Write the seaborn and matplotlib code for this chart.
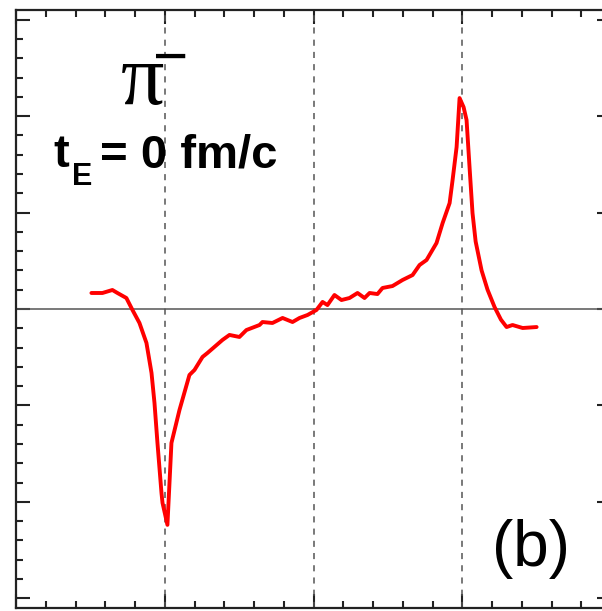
import matplotlib
matplotlib.use("Agg")
import matplotlib.pyplot as plt
import seaborn as sns
import numpy as np
import pandas as pd
from matplotlib.ticker import MultipleLocator, NullFormatter

sns.set_style("white")
plt.rcParams['font.family'] = ['Liberation Sans', 'DejaVu Sans']
plt.rcParams['mathtext.fontset'] = 'custom'
plt.rcParams['mathtext.it'] = 'Liberation Serif'
plt.rcParams['mathtext.rm'] = 'Liberation Sans'

x_vals = [-1.493, -1.419, -1.352, -1.318, -1.258, -1.217, -1.170, -1.123, -1.089, -1.069,
          -1.049, -1.022, -1.015, -0.982, -0.955, -0.901, -0.834, -0.800, -0.746, -0.713,
          -0.612, -0.565, -0.498, -0.451, -0.363, -0.343, -0.276, -0.208, -0.141, -0.094,
          -0.040, 0.020, 0.061, 0.094, 0.141, 0.188, 0.242, 0.296, 0.343, 0.377,
          0.430, 0.464, 0.531, 0.599, 0.666, 0.713, 0.760, 0.827, 0.868, 0.915,
          0.935, 0.962, 0.982, 1.009, 1.029, 1.049, 1.069, 1.090, 1.130, 1.170,
          1.217, 1.260, 1.298, 1.338, 1.406, 1.500]
y_vals = [0.166, 0.166, 0.197, 0.166, 0.114, -0.010, -0.145, -0.352, -0.663, -0.974,
          -1.389, -1.907, -2.010, -2.238, -1.389, -1.047, -0.684, -0.632, -0.497, -0.456,
          -0.321, -0.269, -0.290, -0.218, -0.166, -0.135, -0.145, -0.093, -0.135, -0.093,
          -0.062, -0.010, 0.073, 0.041, 0.145, 0.093, 0.114, 0.166, 0.114, 0.166,
          0.155, 0.218, 0.238, 0.301, 0.352, 0.456, 0.508, 0.684, 0.891, 1.098,
          1.337, 1.679, 2.187, 2.093, 1.959, 1.472, 0.995, 0.700, 0.400, 0.200,
          0.021, -0.110, -0.187, -0.166, -0.197, -0.187]
dashed_x = [-1, 0, 1]

df = pd.DataFrame({"x": x_vals, "y": y_vals})

fig = plt.figure(figsize=(6.02, 6.11), dpi=100)
W, H = 602, 611
ax = fig.add_axes([16 / W, (H - 608) / H, (611 - 16) / W, (608 - 10) / H])

ax.axhline(0, color='#555555', lw=1.1, zorder=1)
for xv in dashed_x:
    ax.axvline(xv, color='#555555', lw=1.1, ls=(0, (4, 4)), zorder=1)

sns.lineplot(data=df, x="x", y="y", color='#ff0000', lw=2.8, ax=ax,
             estimator=None, sort=False, zorder=3)

ax.set_xlim(-2, 2)
ax.set_ylim(-3.1, 3.1)
ax.xaxis.set_major_locator(MultipleLocator(1))
ax.xaxis.set_minor_locator(MultipleLocator(0.2))
ax.yaxis.set_major_locator(MultipleLocator(1))
ax.yaxis.set_minor_locator(MultipleLocator(0.2))
ax.xaxis.set_major_formatter(NullFormatter())
ax.yaxis.set_major_formatter(NullFormatter())
ax.tick_params(which='both', direction='in', top=True, right=True, bottom=True, left=True,
               color='#222222', width=1.5)
ax.tick_params(which='major', length=10)
ax.tick_params(which='minor', length=5)
for s in ax.spines.values():
    s.set_color('#222222')
    s.set_linewidth(1.6)
ax.set_xlabel("")
ax.set_ylabel("")

def px(xp, yp):
    return (xp / W, 1 - yp / H)

fig.text(*px(120, 105), r"$\pi^{\!\!\!-}$", fontsize=62, color='black',
         ha='left', va='baseline')
fig.text(*px(53, 167), "t", fontsize=34, fontweight='bold', color='black', ha='left', va='baseline')
fig.text(*px(72, 185), "E", fontsize=22, fontweight='bold', color='black', ha='left', va='baseline')
fig.text(*px(100, 167), "= 0 fm/c", fontsize=34, fontweight='bold', color='black', ha='left', va='baseline')
fig.text(*px(531, 566), "(b)", fontsize=46, color='black', ha='center', va='baseline')

fig.savefig("out.png", dpi=100)
